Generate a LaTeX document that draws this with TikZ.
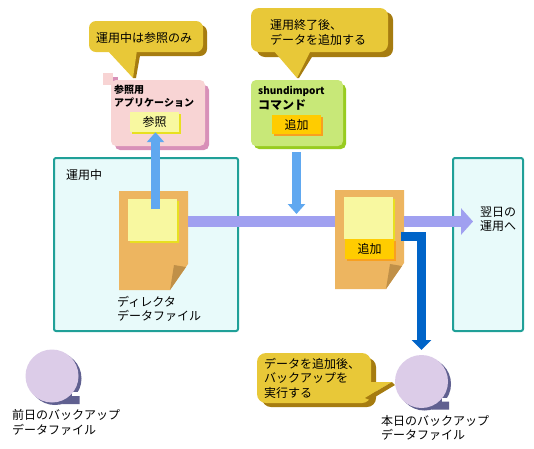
\documentclass[tikz,border=0pt]{standalone}
\usepackage{fontspec}
\setmainfont{Noto Sans CJK JP}
\usetikzlibrary{arrows.meta}
\definecolor{calloutfill}{HTML}{E8C838}
\definecolor{calloutshade}{HTML}{A67C10}
\definecolor{pinkfill}{HTML}{F8D4D4}
\definecolor{pinkshade}{HTML}{D890B8}
\definecolor{greenfill}{HTML}{C8E878}
\definecolor{greenshade}{HTML}{98CC20}
\definecolor{paleyellow}{HTML}{F8F8A0}
\definecolor{yellowshade}{HTML}{E8E020}
\definecolor{amber}{HTML}{FFCC00}
\definecolor{ambershade}{HTML}{F8A020}
\definecolor{framecol}{HTML}{20A098}
\definecolor{framefill}{HTML}{E8FAFA}
\definecolor{docfill}{HTML}{EDB560}
\definecolor{docfold}{HTML}{C09048}
\definecolor{flowpurple}{HTML}{A0A0F0}
\definecolor{skyblue}{HTML}{60A8F0}
\definecolor{deepblue}{HTML}{0064C8}
\definecolor{diskfill}{HTML}{DCCCE8}
\definecolor{diskshade}{HTML}{606090}
\tikzset{
  x=1pt,y=-1pt,
  txt/.style={font=\fontsize{12}{14}\selectfont,inner sep=0pt,anchor=west,text=black},
  smalltxt/.style={font=\fontsize{10}{12}\selectfont\bfseries,inner sep=0pt,anchor=west,text=black},
  boldtxt/.style={font=\fontsize{12}{14}\selectfont\bfseries,inner sep=0pt,anchor=west,text=black},
  framebox/.style={draw=framecol,line width=2pt,fill=framefill,rounded corners=2pt},
  flowarrow/.style={line width=11pt,draw=flowpurple,-{Triangle[length=12pt,width=26pt]}},
  flowline/.style={line width=11pt,draw=flowpurple},
  skyarrow/.style={line width=9pt,draw=skyblue,-{Triangle[length=10pt,width=17pt]}},
  deeparrow/.style={line width=9pt,draw=deepblue,-{Triangle[length=10pt,width=19pt]},line join=miter},
  chip/.style={inner sep=0pt,font=\fontsize{12}{14}\selectfont},
}
\newcommand{\doccorner}[2]{%
  \fill[docfill] (#1,#2) -- ++(69,0) -- ++(0,73) -- ++(-18,26) -- ++(-51,0) -- cycle;
  \fill[docfold] (#1+55,#2+74) -- (#1+67,#2+76) -- (#1+51,#2+99) -- cycle;
}
\newcommand{\disk}[2]{%
  \fill[diskshade] (#1+3,#2+2.5) circle (26.5);
  \fill[white] (#1+20,#2+16) rectangle (#1+31,#2+20);
  \fill[diskshade] (#1+10,#2+28) -- (#1+27.5,#2+28) -- (#1+27.5,#2+20) -- (#1+20,#2+20) -- cycle;
  \fill[diskfill] (#1,#2) circle (26.5);
}
\begin{document}
\begin{tikzpicture}
\useasboundingbox (0,0) rectangle (534,448);
\fill[white] (0,0) rectangle (534,448);

% frames
\node[framebox,minimum width=184pt,minimum height=173pt,inner sep=0pt] (runframe) at (146,244.5) {};
\node[framebox,minimum width=70pt,minimum height=173pt,inner sep=0pt] (nextframe) at (488,244.5) {};
\node[txt] (runlabel) at (66,175) {運用中};
\node[txt] (nextlabelA) at (480,212) {翌日の};
\node[txt] (nextlabelB) at (480,226) {運用へ};

% application box
\fill[pinkfill] (103,73) rectangle (113,85);
\fill[pinkshade] (113,77) rectangle (118,85);
\fill[pinkshade,rounded corners=5pt] (115,85) rectangle (209,150);
\fill[pinkfill,rounded corners=5pt] (111,80) rectangle (205,146);
\node[smalltxt] (apptitleA) at (114,90) {参照用};
\node[smalltxt] (apptitleB) at (114,103) {アプリケーション};
\fill[yellowshade] (132,114) rectangle (181,134);
\node[chip,fill=paleyellow,minimum width=49pt,minimum height=20pt] (refchip) at (154.5,122) {参照};

% command box
\fill[greenshade,rounded corners=5pt] (254,84) rectangle (346,149);
\fill[greenfill,rounded corners=5pt] (251,80) rectangle (343,146);
\node[smalltxt] (cmdtitleA) at (258,91) {shundimport};
\node[boldtxt] (cmdtitleB) at (258,105) {コマンド};
\fill[ambershade] (274,117) rectangle (323,136);
\node[chip,fill=amber,minimum width=49pt,minimum height=19pt] (addchip) at (296.5,124.5) {追加};

% documents
\doccorner{119}{191}
\fill[yellowshade] (130,201) rectangle (179,243);
\node[fill=paleyellow,inner sep=0pt,minimum width=49pt,minimum height=42pt] (sheetA) at (152.5,220) {};
\node[inner sep=0pt,minimum width=69pt,minimum height=99pt] (docA) at (153.5,240.5) {};
\node[txt] (docAlabelA) at (117,302) {ディレクタ};
\node[txt] (docAlabelB) at (117,316) {データファイル};

\doccorner{335}{190}
\fill[yellowshade] (346,199) rectangle (395,241);
\node[fill=paleyellow,inner sep=0pt,minimum width=49pt,minimum height=42pt] (sheetB) at (368.5,218) {};
\fill[ambershade] (347,241) rectangle (396,261);
\node[chip,fill=amber,minimum width=49pt,minimum height=20pt] (addchipB) at (369.5,249) {追加};
\node[inner sep=0pt,minimum width=69pt,minimum height=99pt] (docB) at (369.5,239.5) {};

% connectors
\coordinate (flowY) at (0,221.5);
\coordinate (flowEnd) at (473,221.5);
\draw[flowline] (docA.east |- flowY) -- (docB.west |- flowY);
\draw[flowarrow] (docB.east |- flowY) -- (flowEnd);
\coordinate (skyA) at (155.5,209);
\draw[skyarrow] (skyA) -- (skyA |- refchip.south);
\coordinate (skyB) at (296.5,152);
\draw[skyarrow] (skyB) -- (296.5,214);
\coordinate (bkStart) at (401,236);
\coordinate (bkTip) at (421.5,350);
\draw[deeparrow] (bkStart) -- (421.5,236) -- (bkTip);

% disks
\disk{52}{376}
\node[inner sep=0pt,minimum size=53pt] (diskA) at (52,376) {};
\node[txt] (diskAlabelA) at (12,415) {前日のバックアップ};
\node[txt] (diskAlabelB) at (12,430) {データファイル};
\disk{421.5}{381.5}
\node[inner sep=0pt,minimum size=53pt] (diskB) at (421.5,381.5) {};
\node[txt] (diskBlabelA) at (381,421) {本日のバックアップ};
\node[txt] (diskBlabelB) at (381,435) {データファイル};

% callouts
\fill[calloutshade,rounded corners=7pt] (125,25) rectangle (207,56);
\fill[calloutshade] (130,50) -- (133,78) -- (136,78) -- (141,50) -- cycle;
\fill[calloutfill,rounded corners=7pt] (89,21) rectangle (203,52);
\fill[calloutfill] (107,50) -- (133,78) -- (137,50) -- cycle;
\node[txt] (noteA) at (96,38) {運用中は参照のみ};

\fill[calloutshade,rounded corners=8pt] (257,12) rectangle (393,57);
\fill[calloutshade] (305,50) -- (297,78) -- (299,78) -- (315,52) -- cycle;
\fill[calloutfill,rounded corners=8pt] (251,8) rectangle (388,52);
\fill[calloutfill] (273,50) -- (297,78) -- (311,50) -- cycle;
\node[txt] (noteBa) at (270,25) {運用終了後、};
\node[txt] (noteBb) at (270,40) {データを追加する};

\fill[calloutshade,rounded corners=9pt] (262,358) rectangle (376,407);
\fill[calloutfill,rounded corners=9pt] (257,353) rectangle (371,403);
\fill[calloutfill] (369,382) -- (392,382) -- (365,398) -- cycle;
\fill[calloutshade] (392,382) -- (395,385) -- (370,400) -- (365,398) -- cycle;
\node[txt] (noteCa) at (264,364) {データを追加後、};
\node[txt] (noteCb) at (264,378) {バックアップを};
\node[txt] (noteCc) at (264,393) {実行する};
\end{tikzpicture}
\end{document}
